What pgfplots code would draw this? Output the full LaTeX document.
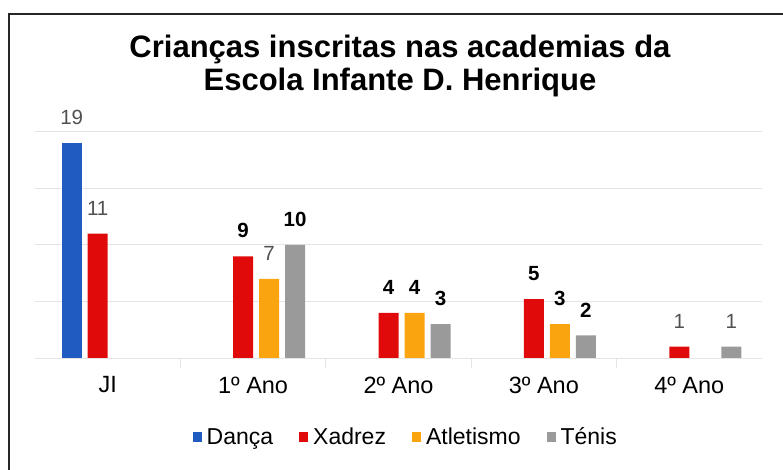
\documentclass[border=0pt]{standalone}
\usepackage{fontspec}
\setmainfont{Liberation Sans}
\usepackage{pgfplots}
\pgfplotsset{compat=1.18}
\definecolor{cblue}{HTML}{1F5BC0}
\definecolor{cred}{HTML}{E00A0A}
\definecolor{corange}{HTML}{FAA510}
\definecolor{cgray}{HTML}{9A9A9A}
\definecolor{labgray}{HTML}{505050}
\definecolor{gridc}{HTML}{E4E4E4}
\newcommand{\lgr}[1]{\textcolor{labgray}{#1}}
\newcommand{\lbo}[1]{\textbf{#1}}
\begin{document}
\begin{tikzpicture}
\path[use as bounding box] (0,0) rectangle (783bp,470bp);
\draw[line width=1.6bp, black!85] (9bp,0) -- (9bp,456bp) -- (783bp,456bp);
\node[align=center, font=\fontsize{31bp}{33bp}\selectfont\bfseries] at (400bp,404bp)
  {Crianças inscritas nas academias da\\Escola Infante D. Henrique};
\begin{axis}[
  at={(35bp,112bp)}, anchor=south west,
  scale only axis, width=727bp, height=226bp,
  xmin=-0.5, xmax=4.5, ymin=0, ymax=20,
  ybar, bar width=20bp,
  axis line style={draw=none},
  ytick={0,5,10,15,20}, yticklabels={},
  ymajorgrids, grid style={gridc, line width=1bp},
  major y tick style={draw=none},
  xtick={0,1,2,3,4},
  xticklabels={JI,1º Ano,2º Ano,3º Ano,4º Ano},
  major x tick style={draw=none},
  xticklabel style={font=\fontsize{23.5bp}{26bp}\selectfont, yshift=-11bp},
  extra x ticks={0.5,1.5,2.5,3.5}, extra x tick labels={},
  extra x tick style={grid=none, major tick length=10bp, tick align=outside, xtick pos=bottom, major x tick style={draw=gridc, line width=1bp}},
  point meta=explicit symbolic,
  nodes near coords,
  nodes near coords style={font=\fontsize{20.5bp}{23bp}\selectfont, anchor=south, inner sep=0pt, yshift=18bp},
  legend columns=4,
  legend style={at={(axis description cs:0.51,-0.35)}, anchor=center, draw=none, fill=none,
    font=\fontsize{23bp}{25bp}\selectfont,
    /tikz/every even column/.append style={column sep=24bp},
    /tikz/every odd column/.append style={column sep=3bp}},
  legend image code/.code={\fill[#1] (0bp,-5bp) rectangle (9bp,5bp);},
]
\addplot[fill=cblue, draw=none, bar shift=-36bp] coordinates {(0,19) [\lgr{19}]};
\addplot[fill=cred, draw=none, bar shift=-10bp] coordinates {(0,11) [\lgr{11}] (1,9) [\lbo{9}] (2,4) [\lbo{4}] (3,5.2) [\lbo{5}] (4,1) [\lgr{1}]};
\addplot[fill=corange, draw=none, bar shift=16bp] coordinates {(1,7) [\lgr{7}] (2,4) [\lbo{4}] (3,3) [\lbo{3}]};
\addplot[fill=cgray, draw=none, bar shift=42bp] coordinates {(1,10) [\lbo{10}] (2,3) [\lbo{3}] (3,2) [\lbo{2}] (4,1) [\lgr{1}]};
\legend{Dança,Xadrez,Atletismo,Ténis}
\end{axis}
\end{tikzpicture}
\end{document}
